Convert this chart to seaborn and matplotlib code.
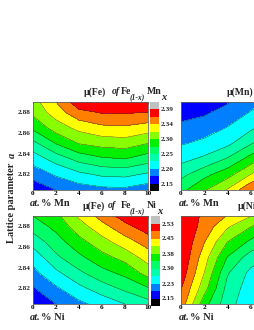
#!/usr/bin/env python3
import numpy as np
import matplotlib
matplotlib.use('Agg')
import matplotlib.pyplot as plt
from matplotlib.colors import ListedColormap, BoundaryNorm
import seaborn as sns

# composition / lattice grid
at_pct = [0, 2, 4, 6, 8, 10]
lattice = [2.805, 2.82, 2.835, 2.85, 2.865, 2.88, 2.89]

# each list is one composition column, bottom to top
fe_mn = [
    [2.158, 2.183, 2.208, 2.239, 2.275, 2.300, 2.308],
    [2.174, 2.201, 2.232, 2.271, 2.305, 2.330, 2.342],
    [2.185, 2.216, 2.254, 2.295, 2.325, 2.359, 2.382],
    [2.191, 2.226, 2.266, 2.303, 2.336, 2.368, 2.382],
    [2.192, 2.228, 2.270, 2.306, 2.338, 2.368, 2.382],
    [2.183, 2.218, 2.257, 2.294, 2.330, 2.366, 2.385],
]
fe_ni = [
    [2.160, 2.184, 2.215, 2.239, 2.279, 2.319, 2.340],
    [2.188, 2.220, 2.255, 2.294, 2.323, 2.351, 2.367],
    [2.217, 2.253, 2.294, 2.331, 2.365, 2.399, 2.422],
    [2.239, 2.283, 2.327, 2.365, 2.401, 2.441, 2.469],
    [2.264, 2.310, 2.350, 2.391, 2.437, 2.481, 2.509],
    [2.287, 2.336, 2.393, 2.433, 2.471, 2.513, 2.526],
]
# the scale of these two is cut off in the picture, so values are in colour steps
mu_mn = [
    [4.7, 3.7, 2.7, 1.9, 1.25, 0.6, 0.2],
    [5.9, 4.7, 3.2, 2.25, 1.5, 0.85, 0.4],
    [7.1, 5.6, 4.1, 2.75, 2.05, 1.35, 0.9],
    [8.9, 7.0, 5.4, 3.9, 2.8, 2.05, 1.6],
    [9.5, 8.2, 6.8, 5.0, 3.7, 2.8, 2.3],
    [9.9, 9.2, 7.8, 6.0, 4.6, 3.5, 3.0],
]
mu_ni = [
    [8.6, 9.05, 9.6, 9.9, 9.95, 9.95, 9.95],
    [5.4, 6.4, 7.0, 7.45, 8.05, 8.6, 8.75],
    [3.4, 3.65, 4.1, 4.95, 6.0, 7.15, 7.95],
    [2.3, 2.5, 2.75, 3.5, 4.8, 6.05, 7.05],
    [2.0, 2.2, 2.4, 2.9, 3.9, 5.0, 6.0],
    [1.8, 2.0, 2.2, 2.5, 3.2, 4.0, 5.0],
]

band_colors = ['#000000', '#0000ff', '#0080ff', '#00ffff', '#00ffaa', '#00ff66',
               '#00f000', '#88ff00', '#ffff00', '#ff8000', '#ff0000', '#c0c0c0']
fe_mn_levels = [2.15, 2.174, 2.198, 2.222, 2.246, 2.27, 2.294, 2.318, 2.342, 2.366, 2.39]
fe_ni_levels = [2.15, 2.188, 2.226, 2.264, 2.302, 2.34, 2.378, 2.416, 2.454, 2.492, 2.53]
step_levels = [0, 1, 2, 3, 4, 5, 6, 7, 8, 9, 10]
fe_mn_labels = ['2.15', '2.20', '2.25', '2.30', '2.34', '2.39']
fe_ni_labels = ['2.15', '2.23', '2.30', '2.38', '2.45', '2.53']

sns.set_style('white')
plt.rcParams['font.family'] = ['Liberation Serif', 'DejaVu Serif']
plt.rcParams['font.weight'] = 'bold'

W, H = 255, 330
fig = plt.figure(figsize=(W / 100, H / 100), dpi=100, facecolor='white')
cmap = ListedColormap(band_colors[1:-1])
cmap.set_under(band_colors[0])
cmap.set_over(band_colors[-1])


def px_axes(left, top, right, bottom):
    return fig.add_axes([left / W, 1 - bottom / H, (right - left) / W, (bottom - top) / H])


def px_text(x, y, s, size, **kw):
    fig.text(x / W, 1 - y / H, s, fontsize=size, va='center', **kw)


def contour_panel(box, values, levels, left_ticks=False):
    ax = px_axes(*box)
    z = np.array(values).T
    norm = BoundaryNorm(levels, cmap.N)
    ax.contourf(at_pct, lattice, z, levels=levels, cmap=cmap, norm=norm, extend='both')
    ax.contour(at_pct, lattice, z, levels=levels, colors='#303030', linewidths=0.3)
    ax.set_xlim(0, 10)
    ax.set_ylim(2.805, 2.89)
    if left_ticks:
        ax.set_xticks(at_pct)
        ax.set_yticks([2.82, 2.84, 2.86, 2.88])
        ax.set_yticklabels(['2.82', '2.84', '2.86', '2.88'])
    else:
        # the right column runs off the figure, only these ticks are visible
        ax.set_xticks(at_pct[:4])
        ax.set_yticks([2.82, 2.84, 2.86, 2.88])
        ax.set_yticklabels([])
    ax.tick_params(axis='x', labelsize=5.2, length=1.5, width=0.4, direction='in', pad=1,
                   bottom=True, top=True, colors='black')
    ax.tick_params(axis='y', labelsize=5.2, length=1.5, width=0.4, direction='in', pad=2, left=True)
    for sp in ax.spines.values():
        sp.set_color('#606060')
        sp.set_linewidth(0.6)
    return ax


def band_strip(box, labels):
    ax = px_axes(*box)
    cells = np.arange(len(band_colors)).reshape(-1, 1)
    sns.heatmap(cells, cmap=ListedColormap(band_colors), cbar=False, ax=ax,
                xticklabels=False, yticklabels=False)
    ax.invert_yaxis()
    ax.yaxis.tick_right()
    ax.set_yticks(np.arange(1, 12, 2))
    ax.set_yticklabels(labels, rotation=0)
    ax.tick_params(axis='y', labelsize=5.2, length=0, pad=1.5)
    return ax


contour_panel((33, 102, 148, 190), fe_mn, fe_mn_levels, left_ticks=True)
contour_panel((181, 102, 297, 190), mu_mn, step_levels)
contour_panel((33, 216, 148, 304), fe_ni, fe_ni_levels, left_ticks=True)
contour_panel((181, 216, 297, 304), mu_ni, step_levels)
band_strip((150, 102, 159, 191), fe_mn_labels)
band_strip((151, 216, 160, 306), fe_ni_labels)

# titles are put together piece by piece, the subscripts are large in the original
px_text(84, 92, 'μ(Fe)', 7)
px_text(112, 92, 'of', 7, style='italic')
px_text(121, 92, 'Fe', 7)
px_text(130, 97, '(1-x)', 5.5, style='italic')
px_text(147, 92, 'Mn', 7)
px_text(161, 97, 'x', 7.5, style='italic')
px_text(227, 92, 'μ(Mn)', 7)

px_text(83, 206, 'μ(Fe)', 7)
px_text(108, 206, 'of', 7, style='italic')
px_text(121, 206, 'Fe', 7)
px_text(130, 211, '(1-x)', 5.5, style='italic')
px_text(147, 206, 'Ni', 7)
px_text(157, 211, 'x', 7.5, style='italic')
px_text(238, 206, 'μ(Ni)', 7)

for x0, y0, name in [(30, 204, 'Mn'), (179, 204, 'Mn'), (30, 317, 'Ni'), (179, 317, 'Ni')]:
    px_text(x0, y0, 'at.', 7.5, style='italic')
    px_text(x0 + 11, y0, '% ' + name, 7.5)

fig.text(12 / W, 1 - 203 / H, 'Lattice parameter', fontsize=7.5, rotation=90, va='center', ha='center')
fig.text(12 / W, 1 - 155 / H, 'a', fontsize=7.5, rotation=90, va='center', ha='center', style='italic')

fig.savefig('out.png', dpi=100)
